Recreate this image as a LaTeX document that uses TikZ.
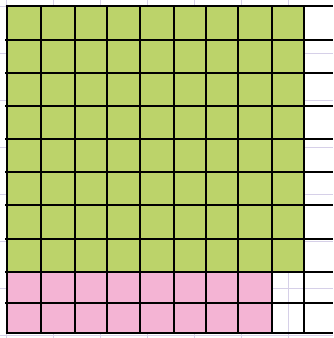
\documentclass[tikz,border=0pt]{standalone}
\definecolor{cellgreen}{RGB}{188,211,106}
\definecolor{cellpink}{RGB}{244,180,212}
\definecolor{faint}{RGB}{214,208,232}
\begin{document}
\begin{tikzpicture}[x=1pt,y=-1pt,
  thickline/.style={line width=2pt,black},
  border/.style={line width=2.6pt,black},
  faintline/.style={line width=0.8pt,faint}]
\useasboundingbox (0,0) rectangle (333,338);
\fill[white] (0,0) rectangle (333,338);
% faint background grid
\foreach \t in {6,53,100,147,194,241,288,335}{
  \draw[faintline] (\t,0) -- (\t,338);
  \draw[faintline] (0,\t) -- (333,\t);
}
% coloured cells
\fill[cellgreen] (7,6) rectangle (304,272);
\fill[cellpink] (7,272) rectangle (272,333);
% vertical lines
\foreach \x in {41,75,107,140,174,206,238,272}{
  \draw[thickline] (\x,6) -- (\x,333);
}
\draw[border] (7,4.7) -- (7,334.3);
\draw[border] (304,6) -- (304,333);
% horizontal lines
\foreach \y in {40,73,106,139,172,205,239,272,303}{
  \draw[thickline] (5,\y) -- (333,\y);
}
\draw[border] (5.7,6) -- (333,6);
\draw[border] (5.7,333) -- (333,333);
\end{tikzpicture}
\end{document}
